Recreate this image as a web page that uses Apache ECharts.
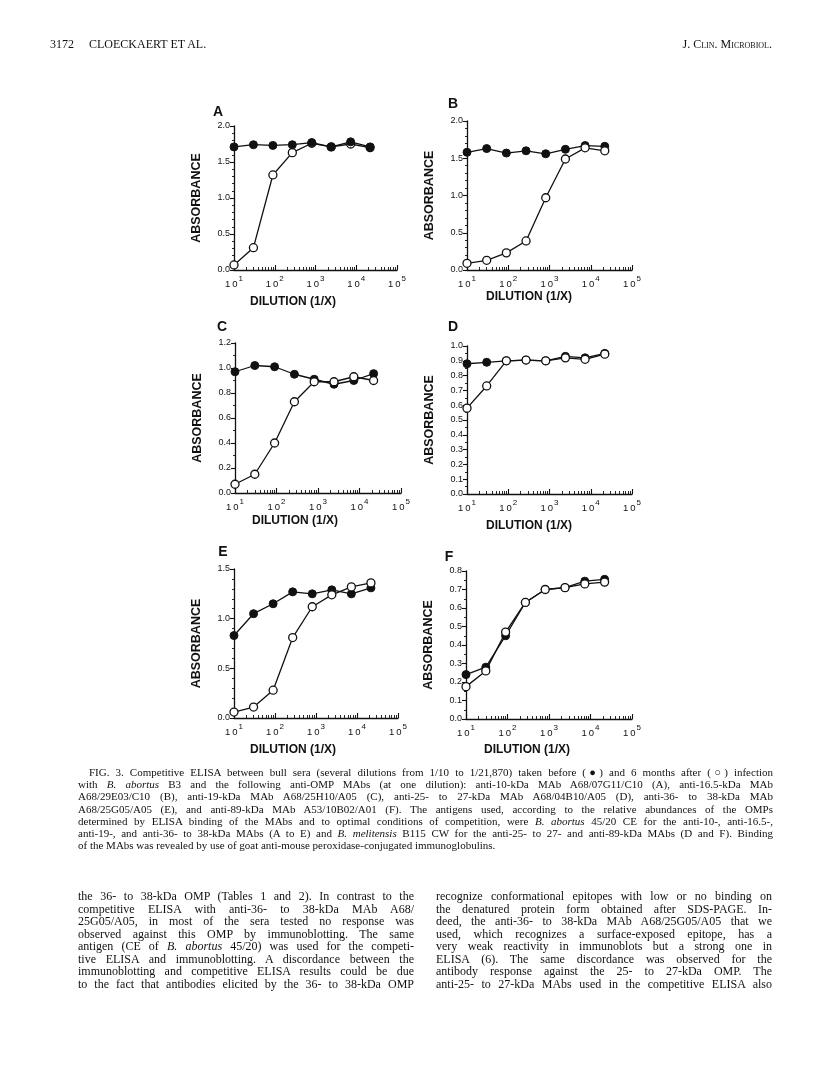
<!DOCTYPE html>
<html>
<head>
<meta charset="utf-8">
<script src="https://cdn.jsdelivr.net/npm/echarts@6/dist/echarts.min.js"></script>
<style>
  html, body { margin: 0; padding: 0; background: #fff; }
  #page { position: relative; width: 816px; height: 1089px; overflow: hidden; }
  #chart { position: absolute; left: 0; top: 0; width: 816px; height: 1089px; }
  .txt { position: absolute; font-family: "Liberation Serif", "DejaVu Serif", serif; color: #111; white-space: nowrap; }
  .line { height: 12.2px; line-height: 12.2px; text-align: justify; text-align-last: justify; white-space: nowrap; }
  .body .line { height: 12.5px; line-height: 12.5px; }
  .line.last { text-align-last: left; }
  .sc { font-variant: small-caps; }
</style>
</head>
<body>
<div id="page">
  <div id="chart"></div>

  <div class="txt" style="left:50px; top:37px; font-size:12px;">3172&nbsp;&nbsp;&nbsp;&nbsp;&nbsp;CLOECKAERT ET AL.</div>
  <div class="txt" style="left:600px; width:172px; text-align:right; top:37px; font-size:12px;"><span class="sc">J. Clin. Microbiol.</span></div>

  <div class="txt" style="left:78px; top:766px; width:695px; font-size:11px;">
    <div class="line" style="margin-left:11px;">FIG. 3. Competitive ELISA between bull sera (several dilutions from 1/10 to 1/21,870) taken before (●) and 6 months after (○) infection</div>
    <div class="line">with <i>B. abortus</i> B3 and the following anti-OMP MAbs (at one dilution): anti-10-kDa MAb A68/07G11/C10 (A), anti-16.5-kDa MAb</div>
    <div class="line">A68/29E03/C10 (B), anti-19-kDa MAb A68/25H10/A05 (C), anti-25- to 27-kDa MAb A68/04B10/A05 (D), anti-36- to 38-kDa MAb</div>
    <div class="line">A68/25G05/A05 (E), and anti-89-kDa MAb A53/10B02/A01 (F). The antigens used, according to the relative abundances of the OMPs</div>
    <div class="line">determined by ELISA binding of the MAbs and to optimal conditions of competition, were <i>B. abortus</i> 45/20 CE for the anti-10-, anti-16.5-,</div>
    <div class="line">anti-19-, and anti-36- to 38-kDa MAbs (A to E) and <i>B. melitensis</i> B115 CW for the anti-25- to 27- and anti-89-kDa MAbs (D and F). Binding</div>
    <div class="line last">of the MAbs was revealed by use of goat anti-mouse peroxidase-conjugated immunoglobulins.</div>
  </div>

  <div class="txt body" style="left:78px; top:890px; width:336px; font-size:12px;">
    <div class="line">the 36- to 38-kDa OMP (Tables 1 and 2). In contrast to the</div>
    <div class="line">competitive ELISA with anti-36- to 38-kDa MAb A68/</div>
    <div class="line">25G05/A05, in most of the sera tested no response was</div>
    <div class="line">observed against this OMP by immunoblotting. The same</div>
    <div class="line">antigen (CE of <i>B. abortus</i> 45/20) was used for the competi-</div>
    <div class="line">tive ELISA and immunoblotting. A discordance between the</div>
    <div class="line">immunoblotting and competitive ELISA results could be due</div>
    <div class="line">to the fact that antibodies elicited by the 36- to 38-kDa OMP</div>
  </div>

  <div class="txt body" style="left:436px; top:890px; width:336px; font-size:12px;">
    <div class="line">recognize conformational epitopes with low or no binding on</div>
    <div class="line">the denatured protein form obtained after SDS-PAGE. In-</div>
    <div class="line">deed, the anti-36- to 38-kDa MAb A68/25G05/A05 that we</div>
    <div class="line">used, which recognizes a surface-exposed epitope, has a</div>
    <div class="line">very weak reactivity in immunoblots but a strong one in</div>
    <div class="line">ELISA (6). The same discordance was observed for the</div>
    <div class="line">antibody response against the 25- to 27-kDa OMP. The</div>
    <div class="line">anti-25- to 27-kDa MAbs used in the competitive ELISA also</div>
  </div>
</div>

<script>
// serum dilutions (1/X)
const dilutions = [10, 30, 90, 270, 810, 2430, 7290, 21870]

// absorbance before (filled) and 6 months after (open) infection
const beforeA = [1.71, 1.74, 1.73, 1.74, 1.77, 1.71, 1.78, 1.71]
const afterA = [0.07, 0.31, 1.32, 1.63, 1.76, 1.71, 1.75, 1.70]
const beforeB = [1.58, 1.63, 1.57, 1.60, 1.56, 1.62, 1.67, 1.66]
const afterB = [0.09, 0.13, 0.23, 0.39, 0.97, 1.49, 1.64, 1.60]
const beforeC = [0.97, 1.02, 1.01, 0.95, 0.91, 0.87, 0.90, 0.955]
const afterC = [0.07, 0.15, 0.40, 0.73, 0.89, 0.89, 0.93, 0.90]
const beforeD = [0.88, 0.89, 0.90, 0.905, 0.90, 0.93, 0.92, 0.95]
const afterD = [0.58, 0.73, 0.90, 0.905, 0.90, 0.92, 0.91, 0.945]
const beforeE = [0.83, 1.05, 1.15, 1.27, 1.25, 1.29, 1.25, 1.31]
const afterE = [0.06, 0.11, 0.28, 0.81, 1.12, 1.24, 1.32, 1.36]
const beforeF = [0.24, 0.28, 0.45, 0.63, 0.70, 0.71, 0.745, 0.755]
const afterF = [0.175, 0.26, 0.47, 0.63, 0.70, 0.71, 0.73, 0.74]

const panelLetters = ['A', 'B', 'C', 'D', 'E', 'F']
const beforeSets = [beforeA, beforeB, beforeC, beforeD, beforeE, beforeF]
const afterSets = [afterA, afterB, afterC, afterD, afterE, afterF]

// y axis ticks per panel
const yMax = [2.0, 2.0, 1.2, 1.0, 1.5, 0.8]
const yStep = [0.5, 0.5, 0.2, 0.1, 0.5, 0.1]
const yMinorSplit = [5, 5, 2, 2, 5, 2]

// x axis: decade labels and log minor ticks
const xMin = 10
const xMax = 100000
const minorMultipliers = [2, 3, 4, 5, 6, 7, 8, 9]
const minorDecades = [10, 100, 1000, 10000]

// page layout of the six panels
const layout = [
  { left: 234, top: 126, width: 163, height: 144, letter: [218, 112], xTitle: [293, 302], openOnTop: false },
  { left: 467, top: 121, width: 165, height: 149, letter: [453, 104], xTitle: [529, 297], openOnTop: true },
  { left: 235, top: 343, width: 166, height: 150, letter: [222, 327], xTitle: [295, 521], openOnTop: true },
  { left: 467, top: 346, width: 165, height: 148, letter: [453, 327], xTitle: [529, 526], openOnTop: true },
  { left: 234, top: 569, width: 164, height: 149, letter: [223, 552], xTitle: [293, 750], openOnTop: true },
  { left: 466, top: 571, width: 166, height: 148, letter: [449, 557], xTitle: [527, 750], openOnTop: true }
]

const SANS = '"Liberation Sans", Arial, Helvetica, sans-serif'
const INK = '#111'

const minorTicks = []
for (const d of minorDecades) {
  for (const m of minorMultipliers) minorTicks.push(m * d)
}

const grids = []
const xAxes = []
const yAxes = []
const series = []
const graphics = []

layout.forEach((p, i) => {
  grids.push({ left: p.left, top: p.top, width: p.width, height: p.height, containLabel: false })

  // main log axis with decade labels
  xAxes.push({
    type: 'log',
    logBase: 10,
    gridIndex: i,
    min: xMin,
    max: xMax,
    axisLine: { show: true, onZero: false, lineStyle: { color: INK, width: 1.3 } },
    axisTick: { show: true, inside: true, length: 5, lineStyle: { color: INK, width: 1.1 } },
    splitLine: { show: false },
    axisLabel: {
      show: true,
      margin: 5,
      hideOverlap: false,
      showMinLabel: true,
      showMaxLabel: true,
      formatter: function (v) {
        const e = Math.round(Math.log10(v))
        return '{b|1\u20090}{e|' + e + '}'
      },
      rich: {
        b: { fontFamily: SANS, fontSize: 9.5, color: INK, lineHeight: 14, verticalAlign: 'bottom' },
        e: { fontFamily: SANS, fontSize: 8, color: INK, lineHeight: 8, verticalAlign: 'top', padding: [0, 0, 0, 1] }
      }
    }
  })
  // companion axis carrying only the minor log ticks
  xAxes.push({
    type: 'log',
    logBase: 10,
    gridIndex: i,
    min: xMin,
    max: xMax,
    position: 'bottom',
    axisLine: { show: false },
    axisLabel: { show: false },
    splitLine: { show: false },
    axisTick: { show: true, inside: true, length: 3, customValues: minorTicks, lineStyle: { color: INK, width: 0.9 } }
  })

  yAxes.push({
    type: 'value',
    gridIndex: i,
    min: 0,
    max: yMax[i],
    interval: yStep[i],
    name: 'ABSORBANCE',
    nameLocation: 'middle',
    nameRotate: 90,
    nameGap: 31,
    nameTextStyle: { fontFamily: SANS, fontWeight: 'bold', fontSize: 12.5, color: INK },
    axisLine: { show: true, lineStyle: { color: INK, width: 1.3 } },
    axisTick: { show: true, inside: false, length: 4, lineStyle: { color: INK, width: 1.1 } },
    minorTick: { show: true, splitNumber: yMinorSplit[i], length: 2, lineStyle: { color: INK, width: 0.9 } },
    splitLine: { show: false },
    axisLabel: {
      margin: 4,
      fontFamily: SANS,
      fontSize: 9,
      color: INK,
      formatter: v => v.toFixed(1)
    }
  })

  const lineStyle = { color: INK, width: 1.3 }
  const before = {
    type: 'line',
    name: 'before',
    xAxisIndex: 2 * i,
    yAxisIndex: i,
    data: dilutions.map((d, j) => [d, beforeSets[i][j]]),
    symbol: 'circle',
    symbolSize: 8,
    itemStyle: { color: INK, borderColor: INK, borderWidth: 1 },
    lineStyle: lineStyle,
    clip: false,
    z: p.openOnTop ? 3 : 5
  }
  const after = {
    type: 'line',
    name: 'after',
    xAxisIndex: 2 * i,
    yAxisIndex: i,
    data: dilutions.map((d, j) => [d, afterSets[i][j]]),
    symbol: 'circle',
    symbolSize: 8,
    itemStyle: { color: '#fff', borderColor: INK, borderWidth: 1.3 },
    lineStyle: lineStyle,
    clip: false,
    z: p.openOnTop ? 5 : 3
  }
  series.push(before, after)

  graphics.push({
    type: 'text',
    x: p.letter[0],
    y: p.letter[1],
    style: { text: panelLetters[i], font: 'bold 14px ' + SANS, fill: INK, align: 'center', verticalAlign: 'middle' }
  })
  graphics.push({
    type: 'text',
    x: p.xTitle[0],
    y: p.xTitle[1],
    style: { text: 'DILUTION (1/X)', font: 'bold 12px ' + SANS, fill: INK, align: 'center', verticalAlign: 'middle' }
  })
})

const myChart = echarts.init(document.getElementById('chart'), null, { renderer: 'canvas' })
myChart.setOption({
  animation: false,
  backgroundColor: 'transparent',
  grid: grids,
  xAxis: xAxes,
  yAxis: yAxes,
  series: series,
  graphic: graphics
})
</script>
</body>
</html>
